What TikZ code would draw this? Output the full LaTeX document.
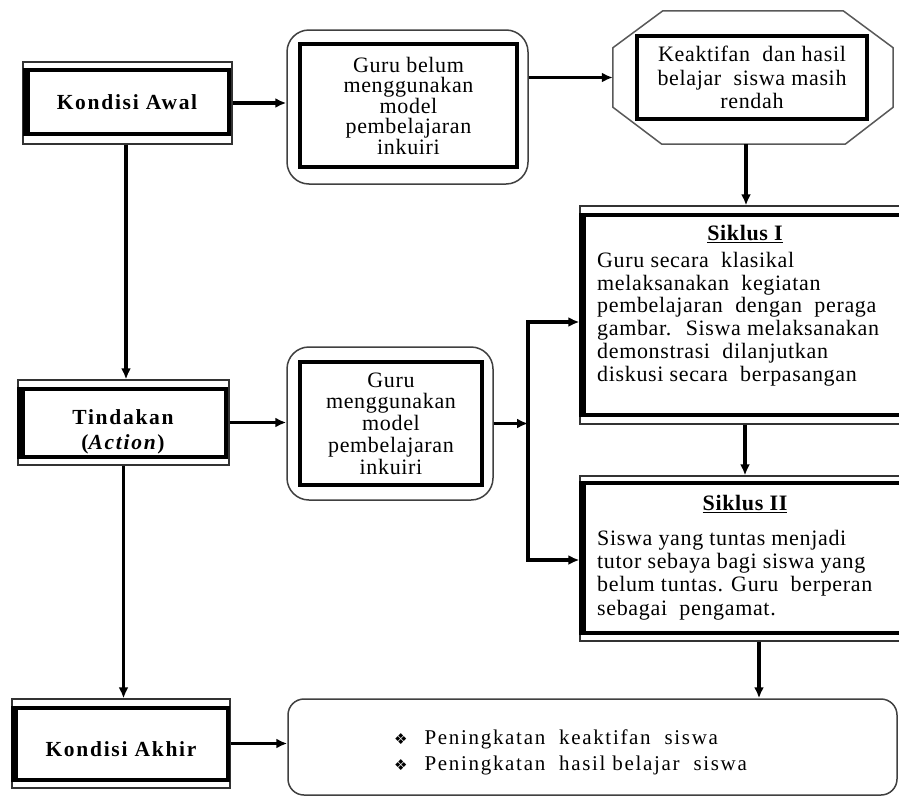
\documentclass[tikz,border=0pt]{standalone}
\usepackage{fontspec}
\setmainfont{Liberation Serif}[LetterSpace=3]
\newfontfamily\labelfont{Liberation Serif}[LetterSpace=8]
\newfontfamily\widefont{Liberation Serif}[LetterSpace=8]
\newfontfamily\symfont{DejaVu Sans}
\usetikzlibrary{arrows.meta}
\begin{document}
\begin{tikzpicture}[x=1pt,y=-1pt,
  inbox/.style={draw, line width=3.6pt, inner sep=0pt, align=center},
  outbox/.style={draw=black!80, line width=1.3pt, inner sep=0pt},
  roundbox/.style={draw=black!75, line width=1.5pt, rounded corners=22pt, inner sep=0pt},
  arr/.style={line width=3.2pt, -{Latex[length=11pt,width=10pt]}},
  ln/.style={line width=3.2pt},
  lbl/.style={font=\labelfont\bfseries\fontsize{21.5}{25}\selectfont, align=center},
  body/.style={font=\fontsize{22}{22.8}\selectfont, inner sep=0pt}]
\useasboundingbox (0,0) rectangle (899,798);
\clip (0,0) rectangle (899,798);
\fill[white] (0,0) rectangle (899,798);

% ---------- Kondisi Awal ----------
\node[outbox, minimum width=209pt, minimum height=82pt] (kao) at (127.5,103) {};
\node[inbox, minimum width=202pt, minimum height=64pt] (ka) at (128,102) {};
\fill ([xshift=-1.8pt]ka.north west) rectangle ([xshift=5pt]ka.south west);
\node[lbl] (kat) at (127,102) {Kondisi Awal};

% ---------- Tindakan ----------
\node[outbox, minimum width=211pt, minimum height=85pt] (tdo) at (123.5,422.5) {};
\node[inbox, minimum width=205pt, minimum height=68pt] (td) at (123.5,423) {};
\fill ([xshift=-1.8pt]td.north west) rectangle ([xshift=6pt]td.south west);
\node[lbl] (tdt) at (123,432) {Tindakan\\(\textit{Action})};

% ---------- Kondisi Akhir ----------
\node[outbox, minimum width=218pt, minimum height=89pt] (kho) at (121,743.5) {};
\node[inbox, minimum width=213pt, minimum height=72pt] (kh) at (121.5,744) {};
\fill ([xshift=-1.8pt]kh.north west) rectangle ([xshift=5pt]kh.south west);
\node[lbl] (kht) at (121,749) {Kondisi Akhir};

% ---------- Box 1 ----------
\node[roundbox, minimum width=241pt, minimum height=154pt] (b1o) at (407.5,107) {};
\node[inbox, minimum width=217pt, minimum height=123pt, font=\fontsize{22}{20.5}\selectfont] (b1) at (408.5,105.5)
  {Guru belum\\menggunakan\\model\\pembelajaran\\inkuiri};

% ---------- Octagon ----------
\node[minimum width=280pt, minimum height=133pt, inner sep=0pt] (oct) at (753,77.5) {};
\draw[draw=black!65, line width=1.5pt]
  ([xshift=50pt]oct.north west) -- ([xshift=-50pt]oct.north east)
  -- ([yshift=-37pt]oct.north east) -- ([yshift=37pt]oct.south east)
  -- ([xshift=-48pt]oct.south east) -- ([xshift=49pt]oct.south west)
  -- ([yshift=37pt]oct.south west) -- ([yshift=-37pt]oct.north west) -- cycle;
\node[inbox, minimum width=230pt, minimum height=83pt, font=\fontsize{22}{23.5}\selectfont] (oi) at (752,77.5)
  {Keaktifan~ dan hasil\\belajar~ siswa masih\\rendah};

% ---------- Siklus I ----------
\node[outbox, minimum width=325pt, minimum height=218pt] (s1o) at (742.5,315) {};
\node[inbox, minimum width=318pt, minimum height=200pt] (s1) at (742,315) {};
\fill ([xshift=-1.8pt]s1.north west) rectangle ([xshift=5pt]s1.south west);
\node[font=\bfseries\fontsize{22}{22}\selectfont] (s1t) at (745,234) {\underline{Siklus I}};
\node[body, anchor=west, align=left] (s1b) at (597,319)
  {Guru secara~ klasikal\\melaksanakan~ kegiatan\\pembelajaran~ dengan~ peraga\\gambar.~ Siswa melaksanakan\\demonstrasi~ dilanjutkan\\diskusi secara~ berpasangan};

% ---------- Siklus II ----------
\node[outbox, minimum width=325pt, minimum height=165pt] (s2o) at (742.5,558.5) {};
\node[inbox, minimum width=318pt, minimum height=150pt] (s2) at (742,558) {};
\fill ([xshift=-1.8pt]s2.north west) rectangle ([xshift=5pt]s2.south west);
\node[font=\bfseries\fontsize{22}{22}\selectfont] (s2t) at (745,504) {\underline{Siklus II}};
\node[body, anchor=west, align=left, font=\fontsize{22}{23.3}\selectfont] (s2b) at (597,575)
  {Siswa yang tuntas menjadi\\tutor sebaya bagi siswa yang\\belum tuntas. Guru~ berperan\\sebagai~ pengamat.};

% ---------- Box 2 ----------
\node[roundbox, minimum width=206pt, minimum height=153pt] (b2o) at (390,423.5) {};
\node[inbox, minimum width=182pt, minimum height=123pt, font=\fontsize{22}{21.7}\selectfont] (b2) at (391,423.5)
  {Guru\\menggunakan\\model\\pembelajaran\\inkuiri};

% ---------- Final box ----------
\node[roundbox, rounded corners=16pt, minimum width=609pt, minimum height=96pt] (fin) at (592.5,747) {};
\node[anchor=west, inner sep=0pt, align=left, font=\widefont\fontsize{21}{26}\selectfont] (fint) at (394,752)
  {{\symfont\fontsize{15}{26}\selectfont ❖}\hspace{17pt}Peningkatan~ keaktifan~ siswa\\
   {\symfont\fontsize{15}{26}\selectfont ❖}\hspace{17pt}Peningkatan~ hasil belajar~ siswa};

% ---------- Connectors ----------
\coordinate (jt) at (528,322);
\coordinate (jb) at (528,560);

\draw[arr] (kao.east) -- (kao.east -| b1o.west);
\draw[arr] (b1o.east |- oct.west) -- (oct.west);
\draw[arr] ([xshift=-7pt]oct.south) -- ([xshift=-7pt]oct.south |- s1o.north);
\draw[arr] ([xshift=2.5pt]s1o.south) -- ([xshift=2.5pt]s1o.south |- s2o.north);
\draw[arr] ([xshift=16.5pt]s2o.south) -- ([xshift=16.5pt]s2o.south |- fin.north);

\draw[arr] ([xshift=-1.5pt]kao.south) -- ([xshift=-1.5pt]kao.south |- tdo.north);
\draw[arr] (tdo.east) -- (tdo.east -| b2o.west);
\draw[arr] (tdo.south) -- (tdo.south |- kho.north);
\draw[arr] (kho.east) -- (kho.east -| fin.west);

\draw[arr] (b2o.east) -- (b2o.east -| jt);
\draw[ln] ([yshift=1.6pt]jt) -- ([yshift=-1.6pt]jb);
\draw[arr] (jt) -- (jt -| s1o.west);
\draw[arr] (jb) -- (jb -| s2o.west);
\end{tikzpicture}
\end{document}
